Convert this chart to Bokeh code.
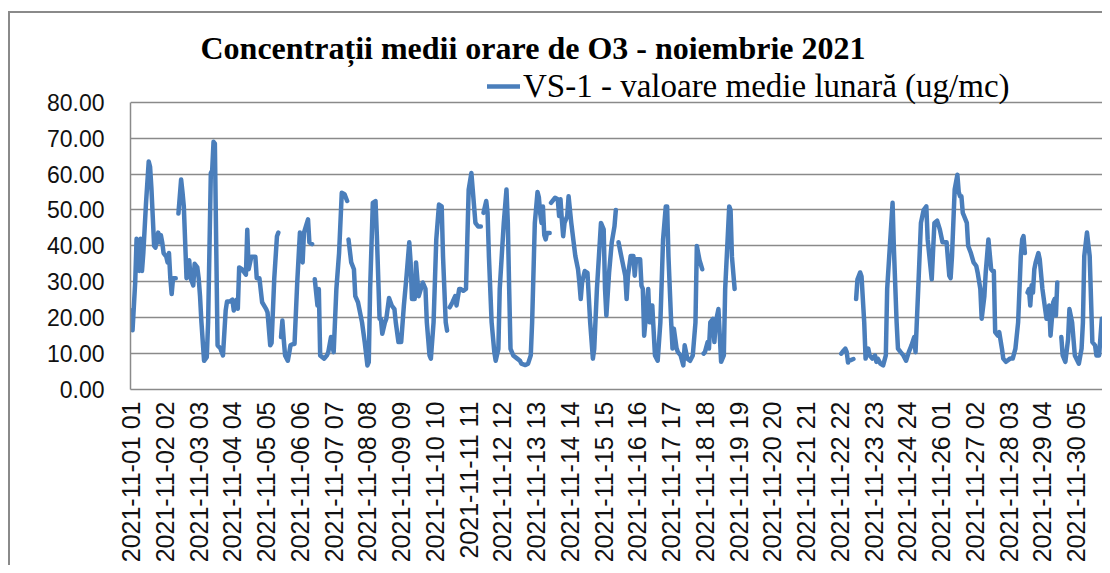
import math
from bokeh.plotting import figure
from bokeh.models import (Range1d, FixedTicker, NumeralTickFormatter, Legend, LegendItem,
                          ColumnDataSource, Label)
from bokeh.embed import file_html
from bokeh.resources import INLINE

NaN = float("nan")

# hourly series (index = hour since 2021-11-01 01); NaN marks missing data
hour_idx = [
    0, 1, 3, 4, 5, 6, 7, 8, 9, 11, 13, 14, 15, 16, 17, 18, 20, 21, 22, 23, 24, 26, 27, 28, 29, 30, 31, 33, 34,
    35, 37, 38, 39, 41, 42, 43, 44, 45, 46, 47, 49, 50, 51, 52, 54, 56, 57, 59, 60, 61, 62, 63, 64, 66, 68, 70, 71,
    73, 75, 76, 78, 79, 80, 82, 85, 86, 87, 89, 92, 93, 95, 97, 100, 101, 103, 104, 106, 108, 109, 110,
    111, 112, 113, 114, 116, 117, 118, 120, 121, 123, 125, 127, 128, 131, 132, 134, 135,
    136, 138, 139, 140, 143, 145, 146, 148, 150, 152, 154, 156, 158, 160, 160.5,
    161, 163, 165, 166, 168, 171, 173, 175, 176, 177, 179, 181, 182, 184, 185, 186, 188, 189, 191, 193, 195, 196,
    198, 200, 202, 204, 206, 207, 208, 210, 211, 213, 216, 218, 219, 221, 222, 224, 226, 228, 230, 231, 233, 234, 235,
    236, 238, 240, 241, 243, 244, 246, 248, 249, 250, 252, 253, 255, 257, 259, 260,
    261, 263, 264, 265, 267, 269, 270, 272, 273, 276, 278, 279, 280, 281, 283, 286, 288, 289, 292, 294, 296, 297,
    299, 301, 302, 303, 304, 305, 306, 307, 308, 310, 310.5,
    311, 314, 316, 317, 318, 319, 320, 321, 323, 324, 326, 329, 331, 332, 333, 334, 336, 338, 340, 342, 343, 345,
    348, 350, 351, 352, 354, 356, 358, 359, 360,
    361, 363, 366, 367, 368, 370, 372, 373, 374, 377, 378, 379, 380, 382, 383, 384, 385, 386, 388, 390, 392, 394,
    396, 397, 398, 400, 401, 402, 404, 405, 407, 409, 410, 412, 414, 416, 418, 419, 421, 423, 423.5,
    424, 425, 427, 428, 429, 431, 432, 433, 435, 437, 439, 440, 443, 444, 445, 447, 448,
    526, 527, 529, 530, 531, 532,
    533, 535, 536,
    537, 538, 540, 541, 543, 544, 546, 547, 549, 551, 552, 553, 555, 557, 559, 560, 562, 564, 565, 567, 568, 570,
    572, 574, 576, 578, 580, 581, 583, 585, 587, 589, 590, 593, 595, 597, 599, 601, 604, 606, 607, 608, 610, 612,
    613, 614, 615, 616, 617, 619, 620, 622, 624, 626, 627, 629, 630, 632, 633, 635, 637, 638, 639, 640, 642, 643,
    645, 646, 648, 651, 653, 655, 657, 659, 660, 661, 662, 663,
    664, 665, 666, 667, 668, 669, 670, 672, 673, 675, 678, 680, 681, 683, 684, 685, 686, 687,
    689, 690, 692, 694, 695, 697, 699, 702, 704, 705, 706, 708, 710, 712, 714, 715, 717, 719,
]
o3_values = [
    22, 16.5, 30, 42, 41, 33, 42, 33, 38, 52, 63.5, 62, 56, 48, 40, 39.5, 43.7, 41, 43, 41, 38, 37, 35.4, 38, 31, 26.6, 31, 31, NaN,
    49, 58.5, 55, 51, 31, 33, 36, 31, 30, 29, 35, 34, 31, 26, 19, 8, 9, 18.7, 60.3, 61, 69, 68.5, 40, 12.3, 11.5, 9.5, 22, 24.5,
    24.5, 25, 22, 25, 22.5, 34, 33.5, 32, 44.5, 33.5, 37, 37, 31, 31, 24.3, 22.4, 21.5, 12.3, 13, 31, 42.7, 43.7, NaN,
    14.6, 19.2, 14, 9.5, 8, 10, 12.3, 12.7, 12.7, 29.8, 43.7, 35.4, 43.7, 47.4, 41, 40.5, NaN,
    30.7, 23.4, 28, 9.5, 8.6, 9.5, 10.4, 14.6, 10.4, 28, 38, 54.8, 54.4, 52.5, NaN,
    41.8, 35.4, 33.5, 26, 24.3, 18.7, 13.2, 6.7, 7.6, 28, 52, 52.5, 42.7, 19.7, 19.7, 15.5, 18.7, 19.7, 25.5, 23.4, 22.4, 18.7,
    13.2, 13.2, 23.4, 31.7, 41, 35.4, 25.2, 25.2, 35.4, 26, 29.8, 28, 18.7, 9.5, 8.6, 18.7, 41.8, 51.5, 51, 37, 18.7, 16.4, NaN,
    22.9, 24.3, 26, 23.4, 28, 28, 27.5, 28, 41.8, 55.7, 60.3, 55.7, 46.4, 45.4, 45.4, NaN,
    49.2, 52.5, 49.2, 37, 18.7, 10.4, 8, 11.3, 28, 46.4, 55.7, 46.4, 28, 11.3, 9.5, 8.6, 8, 7.2, 6.8, 7.2, 9.5, 18.7,
    46.4, 55, 53.5, 49, 46.4, 51, 43, 41.8, 43.6, 43.6, NaN,
    52, 53.4, 53, 48.3, 53, 47.4, 42.7, 46.4, 48.3, 53.8, 46.4, 37.2, 33.5, 29.8, 25.2, 29.8, 33, 32.5, 18.7, 8.6, 11.3, 28,
    46.4, 44.6, 28, 20.6, 32.5, 41, 45.4, 50, NaN,
    41, 37.2, 31.7, 25.2, 31.7, 37.2, 37.2, 31.7, 36.3, 36.3, 28.9, 28, 15, 23.4, 28, 18.7, 23.4, 23.4, 9.5, 8, 18.7, 41.8,
    51, 51, 37, 18.7, 11.4, 16.9, 11.5, 10.4, 9.5, 6.7, 12.3, 8.6, 8, 9.5, 18.7, 40, 36, 33.5, NaN,
    10, 10.4, 13.2, 11.4, 18.7, 19.7, 13.2, 18.7, 22.4, 7.7, 9.5, 28, 51, 50, 37, 28, NaN,
    10, 10.5, 11.4, 10.5, 7.5, NaN,
    8.2, 8.5, NaN,
    25.2, 30.7, 32.6, 31.5, 18.7, 8.6, 11.4, 9.5, 8.6, 9.5, 7.7, 8.6, 7.2, 6.7, 9.5, 28, 40, 52, 39, 18.7, 11.4, 10.4,
    9.5, 8, 10.4, 12.3, 14.6, 10.4, 28, 46.4, 50, 51, 41.8, 30.7, 46.4, 47, 44.6, 41, 41, 31.7, 31, 37, 55.7, 59.8,
    55, 53.8, 53.8, 49.2, 48.3, 46.4, 40, 38, 35.4, 34.4, 32.6, 28, 19.7, 26, 32.6, 41.8, 33.5, 33, 33, 16, 15, 16,
    11.4, 8.6, 7.7, 8.6, 8.6, 11.4, 18.7, 37.2, 41.8, 42.7, 38, NaN,
    27, 28, 23.4, 29, 27, 33.5, 35.4, 38, 36.3, 28, 19.7, 23.4, 15, 24.3, 25.2, 20.6, 29.8, NaN,
    14.6, 9.5, 7.7, 14, 22.4, 18.7, 9.5, 7.2, 11.4, 18.7, 37.2, 43.7, 37.2, 13.2, 12.3, 9.5, 9.5, 19.7,
]

tick_labels = [
    "2021-11-01 01", "2021-11-02 02", "2021-11-03 03", "2021-11-04 04", "2021-11-05 05",
    "2021-11-06 06", "2021-11-07 07", "2021-11-08 08", "2021-11-09 09", "2021-11-10 10",
    "2021-11-11 11", "2021-11-12 12", "2021-11-13 13", "2021-11-14 14", "2021-11-15 15",
    "2021-11-16 16", "2021-11-17 17", "2021-11-18 18", "2021-11-19 19", "2021-11-20 20",
    "2021-11-21 21", "2021-11-22 22", "2021-11-23 23", "2021-11-24 24", "2021-11-26 01",
    "2021-11-27 02", "2021-11-28 03", "2021-11-29 04", "2021-11-30 05",
]
tick_step_hours = 25
y_ticks = [0, 10, 20, 30, 40, 50, 60, 70, 80]
y_max = 80
n_hours = 720

title_text = "Concentrații medii orare de O3 - noiembrie 2021"
series_name = "VS-1 - valoare medie lunară (ug/mc)"

# layout (pixels)
FIG_W, FIG_H = 1102, 565
FRAME_TOP, FRAME_BOTTOM, FRAME_LEFT = 14, 390, 130
PX_PER_UNIT = (390 - 102) / 80.0
PX_PER_HOUR = (FIG_W - FRAME_LEFT) / n_hours
y_top = (FRAME_BOTTOM - FRAME_TOP) / PX_PER_UNIT   # headroom inside frame for title/legend

source = ColumnDataSource(data=dict(x=hour_idx, y=o3_values))

p = figure(width=FIG_W, height=FIG_H, output_backend="svg", toolbar_location=None,
           x_range=Range1d(-0.5, n_hours - 0.5), y_range=Range1d(0, y_top),
           min_border_left=FRAME_LEFT, min_border_right=0,
           min_border_top=FRAME_TOP, min_border_bottom=FIG_H - FRAME_BOTTOM)
# outer chart border (only its left and top edges fall inside the crop)
p.styles = {
    "background": ("linear-gradient(#8a8a8a, #8a8a8a) 8px 11px / 2px 100% no-repeat, "
                   "linear-gradient(#8a8a8a, #8a8a8a) 8px 11px / 100% 2px no-repeat, white"),
}
p.title.visible = False
p.outline_line_color = None
p.background_fill_color = "white"
p.border_fill_alpha = 0

r = p.line("x", "y", source=source, line_color="#4a7ebb", line_width=4.5,
           line_join="round", line_cap="round")

# axes
tick_pos = [i * tick_step_hours for i in range(len(tick_labels))]
p.xaxis.ticker = FixedTicker(ticks=tick_pos)
p.xaxis.major_label_overrides = {t: lab for t, lab in zip(tick_pos, tick_labels)}
p.xaxis.major_label_orientation = math.pi / 2
p.xaxis.major_label_text_font = "Liberation Sans"
p.xaxis.major_label_text_font_size = "25px"
p.xaxis.major_label_text_color = "#111111"
p.xaxis.major_label_standoff = 12
p.xaxis.major_tick_in = 0
p.xaxis.major_tick_out = 0
p.xaxis.major_tick_line_color = None
p.xaxis.minor_tick_line_color = None
p.xaxis.axis_line_color = "#8a8a8a"
p.xaxis.axis_line_width = 1.5

p.yaxis.ticker = FixedTicker(ticks=y_ticks)
p.yaxis.bounds = (0, y_max)
p.yaxis.formatter = NumeralTickFormatter(format="0.00")
p.yaxis.major_label_text_font = "Liberation Sans"
p.yaxis.major_label_text_font_size = "23px"
p.yaxis.major_label_text_color = "#111111"
p.yaxis.major_label_standoff = 26
p.yaxis.major_tick_in = 0
p.yaxis.major_tick_out = 0
p.yaxis.major_tick_line_color = None
p.yaxis.minor_tick_line_color = None
p.yaxis.axis_line_color = "#8a8a8a"
p.yaxis.axis_line_width = 1.5

p.xgrid.visible = False
p.ygrid.grid_line_color = "#8a8a8a"
p.ygrid.grid_line_width = 1.3

# title inside the (extended) frame, above the 80 line
title_x = (200 - FRAME_LEFT) / PX_PER_HOUR - 0.5
title_y = (FRAME_BOTTOM - 48) / PX_PER_UNIT
p.add_layout(Label(x=title_x, y=title_y, text=title_text,
                   text_font="Liberation Serif", text_font_style="bold", text_font_size="32px",
                   text_color="#000000", text_align="left", text_baseline="middle"))

legend = Legend(items=[LegendItem(label=series_name, renderers=[r])],
                location=(487 - FRAME_LEFT, FRAME_BOTTOM - 106),
                label_text_font="Liberation Serif", label_text_font_size="33px",
                label_text_color="#000000", glyph_width=33, glyph_height=38, label_height=38,
                label_standoff=3, padding=0, margin=0, border_line_alpha=0,
                background_fill_alpha=0)
p.add_layout(legend, "center")

open("out.html", "w").write(file_html(p, INLINE))
